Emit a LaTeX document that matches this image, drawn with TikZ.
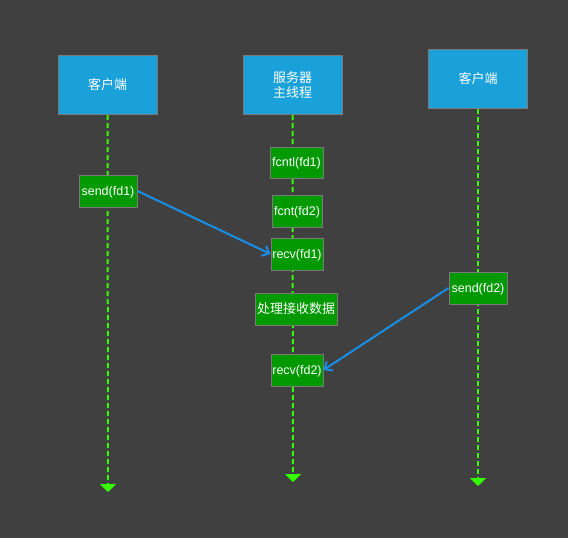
\documentclass[tikz,border=0pt]{standalone}
\usepackage{fontspec}
\setmainfont{Liberation Sans}
\newfontfamily\cjk{Noto Sans CJK SC}
\usetikzlibrary{arrows.meta}
\definecolor{bgdark}{HTML}{404040}
\definecolor{headblue}{HTML}{1BA1D9}
\definecolor{stepgreen}{HTML}{009900}
\definecolor{edgegray}{HTML}{7A7A7A}
\definecolor{lifegreen}{HTML}{33FF00}
\definecolor{msgblue}{HTML}{178FE6}
\begin{document}
\begin{tikzpicture}[x=1pt,y=-1pt,
  every node/.style={font=\fontsize{12.5}{15}\selectfont, text=white, inner sep=0pt, align=center},
  cjktext/.style={font=\fontsize{13}{15}\selectfont\cjk},
  header/.style={draw=edgegray, line width=1pt, fill=headblue, minimum width=99pt, minimum height=59pt},
  stepbox/.style={draw=edgegray, line width=1pt, fill=stepgreen, minimum height=32pt},
  steptext/.style={text height=10pt, text depth=2pt},
  lifeline/.style={draw=lifegreen, line width=2pt, dash pattern=on 5pt off 3pt,
    -{Triangle[width=16pt,length=8pt]}},
  message/.style={draw=msgblue, line width=2pt, -{Straight Barb[length=6pt,width=11pt]}}]
  \fill[bgdark] (0,0) rectangle (568,538);
  \useasboundingbox (0,0) rectangle (568,538);

  % participants
  \node[header, cjktext] (c1) at (107.5,85) {客户端};
  \node[header, cjktext] (srv) at (292.5,85) {服务器\\主线程};
  \node[header, cjktext] (c2) at (478,79) {客户端};

  % lifeline ends
  \coordinate (e1) at (108,492);
  \coordinate (e2) at (293,482);
  \coordinate (e3) at (478,486);
  \draw[lifeline] (c1.south) -- (e1);
  \draw[lifeline] (srv.south) -- (e2);
  \draw[lifeline] (c2.south) -- (e3);

  % steps
  \node[stepbox, steptext, minimum width=58pt] (s1) at (108,191) {send(fd1)};
  \node[stepbox, steptext, minimum width=53pt, minimum height=31pt] (f1) at (296.5,162.5) {fcntl(fd1)};
  \node[stepbox, steptext, minimum width=50pt] (f2) at (297,211) {fcnt(fd2)};
  \node[stepbox, steptext, minimum width=52pt] (r1) at (297,254) {recv(fd1)};
  \node[stepbox, cjktext, minimum width=82pt] (proc) at (296,309) {处理接收数据};
  \node[stepbox, steptext, minimum width=52pt] (r2) at (297,370) {recv(fd2)};
  \node[stepbox, steptext, minimum width=58pt] (s2) at (478,288) {send(fd2)};

  % messages
  \draw[message] (s1.east) -- (r1.west);
  \draw[message] (s2.west) -- (r2.east);
\end{tikzpicture}
\end{document}
